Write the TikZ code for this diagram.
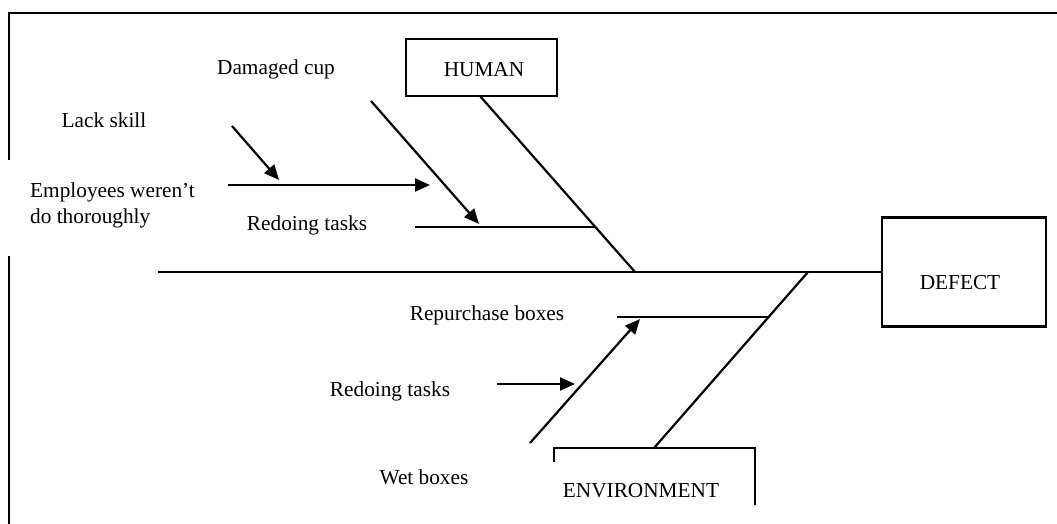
\documentclass[tikz,border=0pt]{standalone}
\usepackage{fontspec}
\setmainfont{Liberation Serif}
\usetikzlibrary{arrows.meta}
\begin{document}
\begin{tikzpicture}[x=1pt,y=-1pt,
  every node/.style={font=\fontsize{21.3}{26}\selectfont, inner sep=0pt},
  bone/.style={line width=2.2pt},
  cause/.style={line width=2.2pt, -{Triangle[length=15pt,width=13pt]}},
  frameline/.style={line width=2.6pt},
  box/.style={draw, line width=2.2pt, rectangle}]
\useasboundingbox (0,0) rectangle (1057,524);

% outer frame (open on the right and bottom)
\draw[frameline] (9,160) -- (9,13) -- (1057,13);
\draw[frameline] (9,256) -- (9,524);

% head and category boxes
\node[box, minimum width=164pt, minimum height=109pt] (defect) at (964,272) {};
\node (defectlbl) at (960,283) {DEFECT};
\node[box, minimum width=151pt, minimum height=57pt] (human) at (481.5,67.5) {};
\node (humanlbl) at (484,70) {HUMAN};
\coordinate (envTL) at (554,448);
\coordinate (envTR) at (755,448);
\coordinate (envL) at (554,462);
\coordinate (envR) at (755,505);
\draw[bone] (envL) -- (envTL) -- (envTR) -- (envR);
\node (envlbl) at (641,491) {ENVIRONMENT};

% spine
\coordinate (spineL) at (158,272);
\coordinate (jH) at (635,272);
\coordinate (jE) at (808,272);
\draw[bone] (spineL) -- (defect.west);

% main bones
\coordinate (hTop) at (480,96);
\coordinate (eBot) at (654,448);
\draw[bone] (hTop) -- (jH);
\draw[bone] (eBot) -- (jE);

% sub-bones
\coordinate (subH0) at (415,227);
\coordinate (subH1) at (595.4,227);
\draw[bone] (subH0) -- (subH1);
\coordinate (subE0) at (617,317);
\coordinate (subE1) at (768.6,317);
\draw[bone] (subE0) -- (subE1);

% cause arrows
\coordinate (cupA) at (371,101);
\coordinate (cupB) at (479,224);
\draw[cause] (cupA) -- (cupB);
\coordinate (skillA) at (232,126);
\coordinate (skillB) at (279,180);
\draw[cause] (skillA) -- (skillB);
\coordinate (empA) at (228,185);
\coordinate (empB) at (430,185);
\draw[cause] (empA) -- (empB);
\coordinate (wetA) at (530,443);
\coordinate (wetB) at (640,319);
\draw[cause] (wetA) -- (wetB);
\coordinate (redoA) at (497,384);
\coordinate (redoB) at (575,384);
\draw[cause] (redoA) -- (redoB);

% labels
\node (cup) at (276,69) {Damaged cup};
\node (skill) at (104,120) {Lack skill};
\node[anchor=west, align=left] (emp) at (30,205) {Employees weren’t\\do thoroughly};
\node (redo1) at (307,225) {Redoing tasks};
\node (repur) at (487,315) {Repurchase boxes};
\node (redo2) at (390,391) {Redoing tasks};
\node (wet) at (424,477) {Wet boxes};
\end{tikzpicture}
\end{document}
